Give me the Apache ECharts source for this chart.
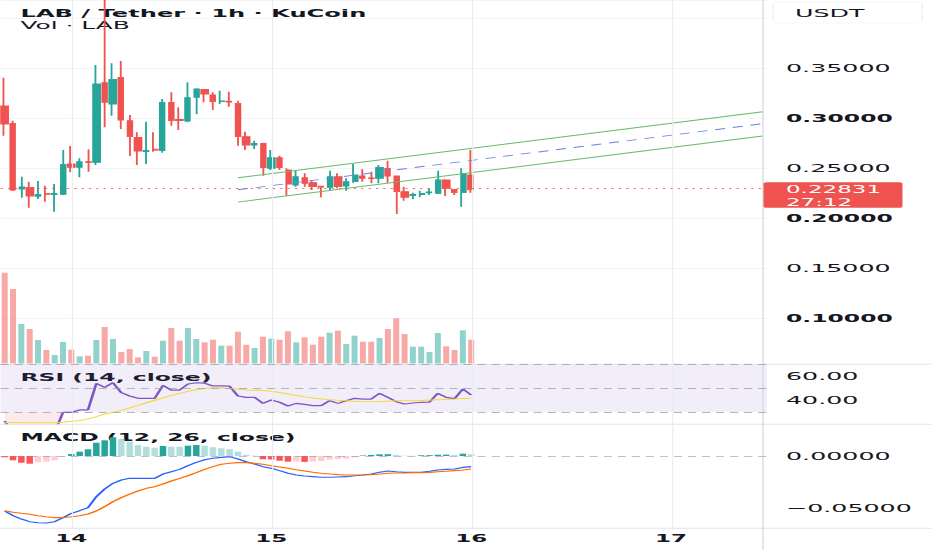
<!DOCTYPE html>
<html>
<head>
<meta charset="utf-8">
<script src="https://cdn.jsdelivr.net/npm/echarts@6/dist/echarts.min.js"></script>
<style>
html,body{margin:0;padding:0;background:#fff;overflow:hidden}
#wrap{position:relative;width:932px;height:550px;overflow:hidden;background:#fff}
#chart{position:absolute;left:0;top:0;height:550px;transform-origin:0 0}
</style>
</head>
<body>
<div id="wrap"><div id="chart"></div></div>
<script>
// ---------------- data ----------------
const titleText = 'LAB / Tether \u00b7 1h \u00b7 KuCoin';
const volTitle = 'Vol \u00b7 LAB';
const rsiTitle = 'RSI (14, close)';
const macdTitle = 'MACD (12, 26, close)';
const currency = 'USDT';
const lastPrice = 0.22831;
const countdown = '27:12';

// hourly candles: [open, close, low, high]
const candles = [
  [0.3120,0.2940,0.2823,0.3403],[0.2947,0.2280,0.2270,0.2973],[0.2290,0.2310,0.2203,0.2413],
  [0.2307,0.2220,0.2103,0.2363],[0.2217,0.2237,0.2190,0.2370],[0.2247,0.2237,0.2163,0.2323],
  [0.2235,0.2245,0.2063,0.2340],[0.2237,0.2537,0.2230,0.2680],[0.2540,0.2507,0.2457,0.2720],
  [0.2507,0.2563,0.2407,0.2597],[0.2563,0.2553,0.2463,0.2687],[0.2557,0.3340,0.2530,0.3530],
  [0.3353,0.3157,0.2907,0.4200],[0.3140,0.3387,0.3023,0.3547],[0.3407,0.2980,0.2890,0.3570],
  [0.2973,0.2813,0.2620,0.3030],[0.2807,0.2670,0.2530,0.2857],[0.2665,0.2675,0.2540,0.2963],
  [0.2688,0.2678,0.2663,0.2857],[0.2673,0.3157,0.2653,0.3190],[0.3157,0.2973,0.2923,0.3257],
  [0.2985,0.2975,0.2880,0.3107],[0.2970,0.3203,0.2957,0.3357],[0.3207,0.3290,0.3037,0.3297],
  [0.3287,0.3240,0.3157,0.3290],[0.3230,0.3163,0.3080,0.3257],[0.3165,0.3170,0.3140,0.3273],
  [0.3168,0.3158,0.3113,0.3263],[0.3147,0.2813,0.2723,0.3173],[0.2813,0.2730,0.2680,0.2863],
  [0.2730,0.2745,0.2690,0.2773],[0.2747,0.2503,0.2423,0.2753],[0.2497,0.2603,0.2480,0.2680],
  [0.2603,0.2503,0.2480,0.2623],[0.2480,0.2340,0.2223,0.2497],[0.2330,0.2413,0.2313,0.2470],
  [0.2403,0.2347,0.2313,0.2447],[0.2353,0.2313,0.2280,0.2380],[0.2318,0.2308,0.2207,0.2318],
  [0.2307,0.2413,0.2280,0.2473],[0.2413,0.2313,0.2297,0.2447],[0.2320,0.2363,0.2273,0.2397],
  [0.2363,0.2430,0.2353,0.2540],[0.2420,0.2397,0.2363,0.2487],[0.2402,0.2393,0.2347,0.2463],
  [0.2397,0.2507,0.2347,0.2530],[0.2497,0.2420,0.2353,0.2573],[0.2420,0.2263,0.2040,0.2420],
  [0.2263,0.2207,0.2173,0.2313],[0.2225,0.2235,0.2187,0.2253],[0.2235,0.2245,0.2207,0.2273],
  [0.2252,0.2260,0.2230,0.2297],[0.2247,0.2380,0.2240,0.2473],[0.2380,0.2297,0.2220,0.2387],
  [0.2287,0.2253,0.2230,0.2287],[0.2253,0.2447,0.2113,0.2497],[0.2430,0.22831,0.2253,0.2680]
];

// volume (thousand LAB)
const volume = [908,745,395,345,235,135,85,215,138,72,78,235,365,245,115,145,62,125,68,228,
  355,228,355,245,212,238,178,178,318,188,155,268,248,238,322,212,262,188,268,308,
  328,195,278,218,218,255,345,452,295,168,168,115,305,172,135,332,238];

const rsi = [22.5,12,14,11,12,12,13,29.7,29.7,31.7,31.7,53.9,50.6,54.4,46.1,43.3,41.4,41.4,41.4,52.2,
  48.3,48.3,53.3,54.4,54,51.7,51.7,51.5,43.3,42.2,42.2,37.2,40,38.1,35,37.2,36.4,35.3,35.3,39.4,
  37.2,39.4,41.4,40.8,40.8,45.6,42.2,38.6,36.7,37.5,38.1,38.3,45.6,42.2,41.1,49.2,44.2];
const rsiMA = [21.3,21.2,21.1,21.0,21.0,21.0,21.1,21.5,22.2,22.8,24.3,26.2,28.3,29.6,31.4,33.5,35.5,37.7,39.8,41.8,
  43.8,45.5,47.2,48.6,49.6,50.2,50.2,49.5,48.9,48.5,48.2,47.9,47.3,46.2,45.0,43.8,42.6,41.6,40.8,40.2,
  39.7,39.3,38.9,38.7,38.6,38.7,39.0,39.3,39.4,39.4,39.6,39.9,40.2,40.5,40.8,41.2,41.4];
const rsiTicks = [40, 60];

const macdLine = [-0.0522,-0.0566,-0.0598,-0.0623,-0.0633,-0.0636,-0.0623,-0.0585,-0.0544,-0.0519,
  -0.0490,-0.0386,-0.0313,-0.0259,-0.0228,-0.0212,-0.0212,-0.0212,-0.0212,-0.0171,
  -0.0149,-0.0127,-0.0092,-0.0060,-0.0035,-0.0022,-0.0013,-0.0006,-0.0028,-0.0054,
  -0.0076,-0.0101,-0.0117,-0.0139,-0.0164,-0.0180,-0.0190,-0.0196,-0.0202,-0.0202,
  -0.0199,-0.0196,-0.0187,-0.0180,-0.0171,-0.0155,-0.0142,-0.0149,-0.0155,-0.0155,
  -0.0155,-0.0145,-0.0133,-0.0127,-0.0123,-0.0108,-0.0101];
const signalLine = [-0.0519,-0.0534,-0.0544,-0.0553,-0.0566,-0.0576,-0.0585,-0.0585,-0.0576,-0.0566,
  -0.0550,-0.0522,-0.0481,-0.0433,-0.0395,-0.0361,-0.0332,-0.0307,-0.0291,-0.0266,
  -0.0237,-0.0212,-0.0187,-0.0158,-0.0127,-0.0101,-0.0079,-0.0069,-0.0063,-0.0063,
  -0.0069,-0.0079,-0.0092,-0.0104,-0.0117,-0.0130,-0.0142,-0.0155,-0.0164,-0.0171,
  -0.0177,-0.0180,-0.0180,-0.0180,-0.0177,-0.0171,-0.0164,-0.0161,-0.0161,-0.0158,
  -0.0158,-0.0155,-0.0149,-0.0145,-0.0139,-0.0133,-0.0123];
const macdHist = [-0.0012,-0.0041,-0.0064,-0.0073,-0.0060,-0.0054,-0.0041,-0.0008,0.0019,0.0041,
  0.0064,0.0126,0.0149,0.0178,0.0159,0.0136,0.0104,0.0088,0.0079,0.0095,
  0.0088,0.0087,0.0098,0.0104,0.0098,0.0083,0.0073,0.0066,0.0041,0.0012,
  0.0003,-0.0031,-0.0033,-0.0045,-0.0054,-0.0052,-0.0056,-0.0054,-0.0048,-0.0035,
  -0.0031,-0.0026,-0.0012,0.0005,0.0010,0.0016,0.0017,0.0010,0.0003,0.0002,
  0.0007,0.0008,0.0012,0.0013,0.0010,0.0022,0.0016];

// drawn channel (start/end slot index, price)
const channelUpper = [[28, 0.2402], [91, 0.3063]];
const channelMid   = [[28, 0.2282], [91, 0.2943]];
const channelLower = [[28, 0.2159], [91, 0.2820]];

// time axis: 92 hourly slots (57 candles + empty future space)
const slotCount = 92;
const slots = Array.from({length: slotCount}, (_, i) => String(i));
const dayTickIndex = [8, 32, 56, 80];
const dayTickLabels = ['14', '15', '16', '17'];

// ---------------- layout ----------------
// The reference is horizontally stretched; draw narrow and stretch by K.
const K = 2.3;
const W = 932 / K, H = 550;
const STEP = 8.33, X0 = 4.7;
const GL = (X0 - STEP / 2) / K;
const GW = slotCount * STEP / K;
const SEP_X = 763 / K;
const FONT = 'DejaVu Sans';
const UP = '#26a69a', DOWN = '#ef5350';

const dom = document.getElementById('chart');
dom.style.width = W + 'px';
dom.style.transform = 'scaleX(' + K + ')';
const chart = echarts.init(dom, null, {renderer: 'svg', width: W, height: H});

const isUp = candles.map(c => c[1] >= c[0]);
const histColors = macdHist.map((v, i) => {
  const p = i > 0 ? macdHist[i - 1] : 0;
  if (v >= 0) return v >= p ? '#26a69a' : '#b2dfdb';
  return v <= p ? '#ff5252' : '#ffcdd2';
});
const osBase = rsi.map(v => Math.min(v, 30));
const osFill = rsi.map(v => 30 - Math.min(v, 30));

const hiddenX = (g) => ({type: 'category', gridIndex: g, data: slots, boundaryGap: true, show: false});
const labelBase = {color: '#131722', fontFamily: FONT, fontSize: 11, margin: (786 - (X0 - STEP/2 + slotCount*STEP)) / K};

const graphics = [
  {id:'t1', type:'text', x: 20.5/K, y: 13.3, z: 1, style:{text: titleText, fill:'#131722', fontFamily: FONT, fontWeight:'bold', fontSize: 10.5, verticalAlign:'middle'}},
  {id:'t2', type:'text', x: 20.5/K, y: 25.3, z: 1, style:{text: volTitle, fill:'#131722', fontFamily: FONT, fontSize: 10.8, verticalAlign:'middle'}},
  {id:'t3', type:'text', x: 20.5/K, y: 377, z: 1, style:{text: rsiTitle, fill:'#131722', fontFamily: FONT, fontWeight:'bold', fontSize: 10.2, verticalAlign:'middle'}},
  {id:'t4', type:'text', x: 20.5/K, y: 437.5, z: 1, style:{text: macdTitle, fill:'#131722', fontFamily: FONT, fontWeight:'bold', fontSize: 10.2, verticalAlign:'middle'}},
  {id:'s1', type:'line', z: 5, shape:{x1:0, y1:364.3, x2:W, y2:364.3}, style:{stroke:'#e0e3eb', lineWidth:1}},
  {id:'s2', type:'line', z: 5, shape:{x1:0, y1:424.3, x2:W, y2:424.3}, style:{stroke:'#e0e3eb', lineWidth:1}},
  {id:'s3', type:'line', z: 5, shape:{x1:0, y1:528.3, x2:W, y2:528.3}, style:{stroke:'#e0e3eb', lineWidth:1}},
  {id:'s4', type:'line', z: 5, shape:{x1:SEP_X, y1:0, x2:SEP_X, y2:H}, style:{stroke:'#d1d4dc', lineWidth:0.5}},
  {id:'ub', type:'rect', z: 6, shape:{x: 773/K, y: 2, width: 149/K, height: 21, r: 3}, style:{fill:'#fff', stroke:'#eef0f3', lineWidth:0.6}},
  {id:'ut', type:'text', z: 7, x: 795/K, y: 13, style:{text: currency, fill:'#131722', fontFamily: FONT, fontSize: 11, verticalAlign:'middle'}}
];

const option = {
  animation: false,
  backgroundColor: '#ffffff',
  textStyle: {fontFamily: FONT},
  grid: [
    {left: GL, width: GW, top: 0, height: 318},
    {left: GL, width: GW, top: 263.5, height: 100},
    {left: GL, width: GW, top: 364, height: 60},
    {left: GL, width: GW, top: 456, height: 52.7},
    {left: GL, width: GW, top: 0, height: 528}
  ],
  xAxis: [hiddenX(0), hiddenX(1), hiddenX(2), hiddenX(3),
    {type: 'category', gridIndex: 4, data: slots, boundaryGap: true, position: 'bottom',
     axisLine: {show: false}, axisTick: {show: false}, splitLine: {show: false},
     axisLabel: {interval: (idx) => dayTickIndex.indexOf(idx) >= 0,
       formatter: (v) => dayTickLabels[dayTickIndex.indexOf(Number(v))] || '',
       color: '#131722', fontFamily: FONT, fontWeight: 'bold', fontSize: 10, margin: 6}}
  ],
  yAxis: [
    {type: 'value', gridIndex: 0, position: 'right', min: 0.1, max: 0.418, interval: 0.05,
     axisLine: {show: false}, axisTick: {show: false}, showMaxLabel: false,
     splitLine: {show: true, lineStyle: {color: '#f3f4f7', width: 1}},
     axisLabel: Object.assign({}, labelBase, {
       formatter: (v) => {
         if (v > 0.38) return '';
         const s = v.toFixed(5);
         return Math.round(v * 100) % 10 === 0 ? '{b|' + s + '}' : s;
       },
       rich: {b: {fontWeight: 'bold', fontSize: 10.2, fontFamily: FONT, color: '#131722'}}
     })},
    {type: 'value', gridIndex: 1, min: 0, max: 1000, show: false},
    {type: 'value', gridIndex: 2, position: 'right', min: 20, max: 70, interval: 20,
     axisLine: {show: false}, axisTick: {show: false}, splitLine: {show: false},
     axisLabel: Object.assign({}, labelBase, {
       formatter: (v) => rsiTicks.indexOf(Math.round(v)) >= 0 ? v.toFixed(2) : ''})},
    {type: 'value', gridIndex: 3, position: 'right', min: -0.05, max: 0, interval: 0.05,
     axisLine: {show: false}, axisTick: {show: false}, splitLine: {show: false},
     axisLabel: Object.assign({}, labelBase, {formatter: (v) => (v < 0 ? '\u2212' : '') + Math.abs(v).toFixed(5)})},
    {type: 'value', gridIndex: 4, min: 0, max: 1, show: false}
  ],
  series: [
    {type: 'line', xAxisIndex: 4, yAxisIndex: 4, z: 0, data: slots.map(() => null), symbol: 'none',
     markLine: {silent: true, symbol: 'none', label: {show: false}, animation: false,
       lineStyle: {color: '#e9ebf0', width: 0.5, type: 'solid'},
       data: dayTickIndex.map(i => ({xAxis: i}))}},
    {type: 'bar', name: 'Volume', xAxisIndex: 1, yAxisIndex: 1, barWidth: '72%',
     data: volume.map((v, i) => ({value: v, itemStyle: {color: isUp[i] ? 'rgba(38,166,154,0.5)' : 'rgba(239,83,80,0.5)'}}))},
    {type: 'candlestick', name: 'LAB', xAxisIndex: 0, yAxisIndex: 0, data: candles, barWidth: '76%',
     itemStyle: {color: UP, color0: DOWN, borderColor: UP, borderColor0: DOWN, borderWidth: 0.8},
     markLine: {silent: true, symbol: 'none', label: {show: false}, animation: false,
       lineStyle: {color: '#ef5350', type: [1, 2.2], width: 1, opacity: 0.8},
       data: [{yAxis: lastPrice}]}},
    {type: 'line', xAxisIndex: 0, yAxisIndex: 0, data: channelUpper, symbol: 'none',
     lineStyle: {color: '#66bb6a', width: 0.9}},
    {type: 'line', xAxisIndex: 0, yAxisIndex: 0, data: channelLower, symbol: 'none',
     lineStyle: {color: '#66bb6a', width: 0.9}},
    {type: 'line', xAxisIndex: 0, yAxisIndex: 0, data: channelMid, symbol: 'none',
     lineStyle: {color: '#6f86e8', width: 0.9, type: [4.5, 3.5]}},
    {type: 'line', xAxisIndex: 2, yAxisIndex: 2, data: osBase, stack: 'os', symbol: 'none',
     lineStyle: {opacity: 0}, z: 1},
    {type: 'line', xAxisIndex: 2, yAxisIndex: 2, data: osFill, stack: 'os', symbol: 'none',
     lineStyle: {opacity: 0}, areaStyle: {color: 'rgba(239,83,80,0.16)'}, z: 1},
    {type: 'line', name: 'RSI', xAxisIndex: 2, yAxisIndex: 2, data: rsi, symbol: 'none',
     lineStyle: {color: '#7e57c2', width: 1.2},
     markArea: {silent: true, itemStyle: {color: 'rgba(126,87,194,0.1)'}, data: [[{yAxis: 30}, {yAxis: 70}]]},
     markLine: {silent: true, symbol: 'none', label: {show: false}, animation: false,
       lineStyle: {color: '#9598a1', type: [3.5, 2.6], width: 1, opacity: 0.7},
       data: [{yAxis: 70}, {yAxis: 50}, {yAxis: 30}]}},
    {type: 'line', name: 'RSI MA', xAxisIndex: 2, yAxisIndex: 2, data: rsiMA, symbol: 'none',
     lineStyle: {color: '#f5d83c', width: 1}},
    {type: 'bar', name: 'Histogram', xAxisIndex: 3, yAxisIndex: 3, barWidth: '78%', clip: false,
     data: macdHist.map((v, i) => ({value: v, itemStyle: {color: histColors[i]}})),
     markLine: {silent: true, symbol: 'none', label: {show: false}, animation: false,
       lineStyle: {color: '#9598a1', type: [3.5, 2.6], width: 1, opacity: 0.6},
       data: [{yAxis: 0}]}},
    {type: 'line', name: 'MACD', xAxisIndex: 3, yAxisIndex: 3, data: macdLine, symbol: 'none', clip: false,
     lineStyle: {color: '#2962ff', width: 1.1}},
    {type: 'line', name: 'Signal', xAxisIndex: 3, yAxisIndex: 3, data: signalLine, symbol: 'none', clip: false,
     lineStyle: {color: '#ff6d00', width: 1.1}}
  ],
  graphic: graphics
};

chart.setOption(option);

// current price tag on the price scale, placed through the axis scale
const py = chart.convertToPixel({yAxisIndex: 0}, lastPrice);
graphics.push(
  {id:'pb', type:'rect', z: 20, shape:{x: 763.5/K, y: py - 7.5, width: 139/K, height: 25.5, r: 1.5}, style:{fill:'#ef5350'}},
  {id:'pt', type:'text', z: 21, x: 786/K, y: py - 5.8, style:{text: lastPrice.toFixed(5) + '\n' + countdown, fill:'#ffffff', fontFamily: FONT, fontSize: 10, lineHeight: 12.2, verticalAlign:'top'}}
);
chart.setOption({graphic: graphics});
</script>
</body>
</html>
